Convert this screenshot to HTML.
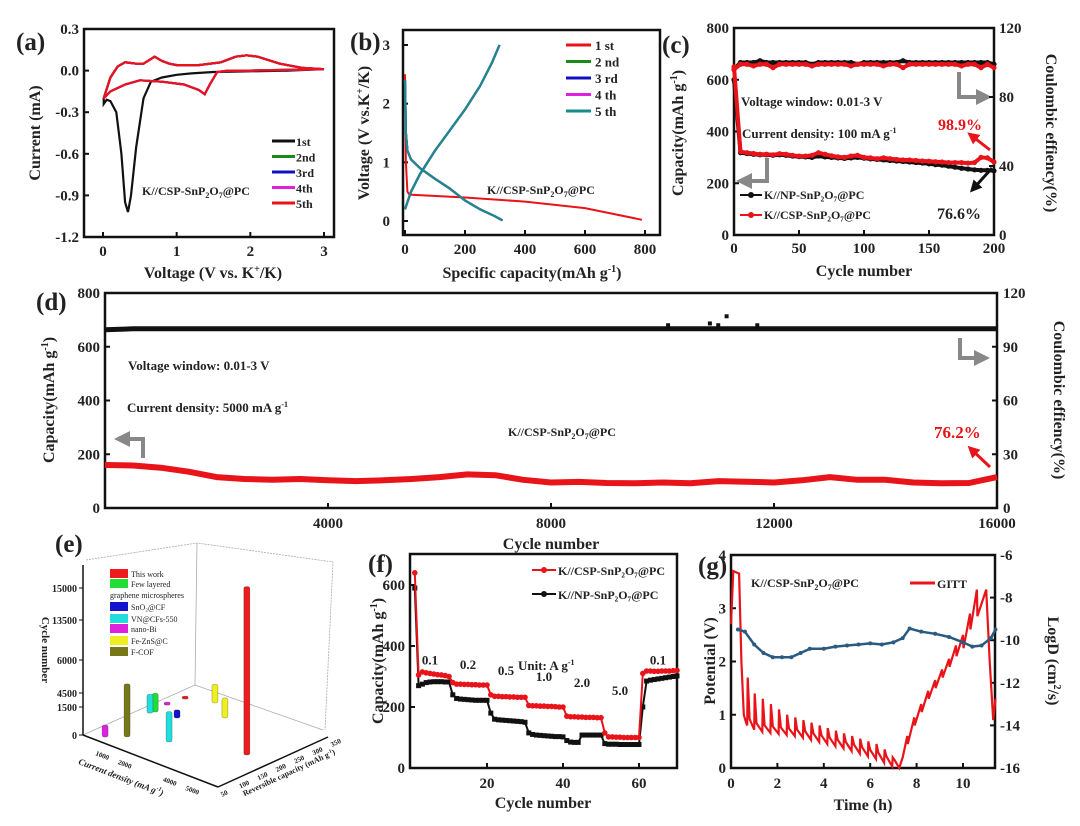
<!DOCTYPE html>
<html><head><meta charset="utf-8">
<style>
html,body{margin:0;padding:0;background:#fff;}
svg{display:block;font-family:"Liberation Serif",serif;font-weight:bold;}
text{fill:#222;}
</style></head>
<body>
<svg id="fig" width="1080" height="826" viewBox="0 0 1080 826" xmlns="http://www.w3.org/2000/svg">
<defs>
<marker id="ahg" markerWidth="4" markerHeight="4" refX="2" refY="2" orient="auto"><path d="M0,0 L4,2 L0,4 z" fill="#888"/></marker>
<marker id="ahr" markerWidth="4" markerHeight="4" refX="2" refY="2" orient="auto"><path d="M0,0 L4,2 L0,4 z" fill="#e8141a"/></marker>
<marker id="ahk" markerWidth="4" markerHeight="4" refX="2" refY="2" orient="auto"><path d="M0,0 L4,2 L0,4 z" fill="#111"/></marker>
</defs>
<text x="16" y="50" font-size="25">(a)</text>
<text x="350" y="50" font-size="25">(b)</text>
<text x="662" y="53" font-size="25">(c)</text>
<text x="36" y="310" font-size="25">(d)</text>
<text x="55" y="552" font-size="25">(e)</text>
<text x="368" y="572" font-size="25">(f)</text>
<text x="698" y="574" font-size="25">(g)</text>

<text x="213" y="278" font-size="16" text-anchor="middle">Voltage (V vs. K<tspan font-size="10" dy="-6">+</tspan><tspan dy="6">/K)</tspan></text>
<text transform="translate(40,133) rotate(-90)" font-size="16" text-anchor="middle">Current (mA)</text>
<text x="532" y="278" font-size="16" text-anchor="middle">Specific capacity(mAh g<tspan font-size="10" dy="-6">-1</tspan><tspan dy="6">)</tspan></text>
<text transform="translate(369,133) rotate(-90)" font-size="16" text-anchor="middle">Voltage (V vs.K<tspan font-size="10" dy="-6">+</tspan><tspan dy="6">/K)</tspan></text>
<text x="864" y="276" font-size="16" text-anchor="middle">Cycle number</text>
<text transform="translate(683,133) rotate(-90)" font-size="16" text-anchor="middle">Capacity(mAh g<tspan font-size="10" dy="-6">-1</tspan><tspan dy="6">)</tspan></text>
<text transform="translate(1046,133) rotate(90)" font-size="16" text-anchor="middle">Coulombic effiency(%)</text>
<text x="551" y="549" font-size="16" text-anchor="middle">Cycle number</text>
<text transform="translate(54,400) rotate(-90)" font-size="16" text-anchor="middle">Capacity(mAh g<tspan font-size="10" dy="-6">-1</tspan><tspan dy="6">)</tspan></text>
<text transform="translate(1054,400) rotate(90)" font-size="16" text-anchor="middle">Coulombic effiency(%)</text>
<text x="543" y="808" font-size="16" text-anchor="middle">Cycle number</text>
<text transform="translate(383,661) rotate(-90)" font-size="16" text-anchor="middle">Capacity(mAh g<tspan font-size="10" dy="-6">-1</tspan><tspan dy="6">)</tspan></text>
<text x="863" y="810" font-size="16" text-anchor="middle">Time (h)</text>
<text transform="translate(715,661) rotate(-90)" font-size="16" text-anchor="middle">Potential (V)</text>
<text transform="translate(1048,661) rotate(90)" font-size="16" text-anchor="middle">LogD (cm<tspan font-size="10" dy="-6">2</tspan><tspan dy="6">/s)</tspan></text>
<text transform="translate(42,650) rotate(90)" font-size="11" text-anchor="middle">Cycle number</text>
<text transform="translate(120,780) rotate(21)" font-size="9" font-style="italic" text-anchor="middle">Current density (mA g<tspan font-size="6" dy="-4">-1</tspan><tspan dy="4">)</tspan></text>
<text transform="translate(290,775) rotate(-25)" font-size="8" text-anchor="middle">Reversible capacity (mAh g<tspan font-size="5" dy="-3">-1</tspan><tspan dy="3">)</tspan></text>

<text x="142" y="195" font-size="12">K//CSP-SnP<tspan font-size="8" dy="3">2</tspan><tspan dy="-3">O</tspan><tspan font-size="8" dy="3">7</tspan><tspan dy="-3">@PC</tspan></text>
<text x="487" y="194" font-size="12">K//CSP-SnP<tspan font-size="8" dy="3">2</tspan><tspan dy="-3">O</tspan><tspan font-size="8" dy="3">7</tspan><tspan dy="-3">@PC</tspan></text>
<text x="741" y="106" font-size="13">Voltage window: 0.01-3 V</text>
<text x="742" y="138" font-size="13">Current density: 100 mA g<tspan font-size="8" dy="-5">-1</tspan></text>
<text x="938" y="130" font-size="16" style="fill:#e8141a">98.9%</text>
<text x="937" y="219" font-size="16">76.6%</text>
<text x="128" y="370" font-size="13">Voltage window: 0.01-3 V</text>
<text x="127" y="412" font-size="13">Current density: 5000 mA g<tspan font-size="8" dy="-5">-1</tspan></text>
<text x="508" y="436" font-size="12">K//CSP-SnP<tspan font-size="8" dy="3">2</tspan><tspan dy="-3">O</tspan><tspan font-size="8" dy="3">7</tspan><tspan dy="-3">@PC</tspan></text>
<text x="934" y="438" font-size="17" style="fill:#e8141a">76.2%</text>
<text x="518" y="670" font-size="13">Unit: A g<tspan font-size="8" dy="-5">-1</tspan></text>
<text x="751" y="587" font-size="12">K//CSP-SnP<tspan font-size="8" dy="3">2</tspan><tspan dy="-3">O</tspan><tspan font-size="8" dy="3">7</tspan><tspan dy="-3">@PC</tspan></text>

<polyline points="767,158 767,181 744,181" fill="none" stroke="#888" stroke-width="4" marker-end="url(#ahg)"/>
<polyline points="959,72 959,97 984,97" fill="none" stroke="#888" stroke-width="4" marker-end="url(#ahg)"/>
<line x1="990" y1="150" x2="972" y2="136" stroke="#e8141a" stroke-width="3" marker-end="url(#ahr)"/>
<line x1="992" y1="168" x2="974" y2="188" stroke="#111" stroke-width="3" marker-end="url(#ahk)"/>
<polyline points="143,458 143,439 122,439" fill="none" stroke="#888" stroke-width="4" marker-end="url(#ahg)"/>
<polyline points="960,338 960,358 982,358" fill="none" stroke="#888" stroke-width="4" marker-end="url(#ahg)"/>
<line x1="990" y1="467" x2="972" y2="450" stroke="#e8141a" stroke-width="3" marker-end="url(#ahr)"/>
</svg>

<script>
const aCath1V=[3,2.5,2,1.5,1.2,1,0.8,0.65,0.55,0.45,0.38,0.34,0.3,0.25,0.18,0.1,0.05,0.01];
const aCath1I=[0.01,0,-0.005,-0.01,-0.02,-0.03,-0.05,-0.08,-0.2,-0.55,-0.9,-1.02,-0.95,-0.6,-0.3,-0.22,-0.21,-0.24];
const aCathV=[3,2.5,2,1.7,1.55,1.45,1.38,1.3,1.1,0.8,0.5,0.3,0.1,0.01];
const aCathI=[0.01,0.005,0,0,-0.01,-0.1,-0.17,-0.14,-0.1,-0.08,-0.07,-0.1,-0.15,-0.2];
const aAnodV=[0.01,0.1,0.2,0.3,0.45,0.55,0.7,0.8,0.9,1.0,1.3,1.6,1.8,1.95,2.1,2.4,2.7,3];
const aAnodI=[-0.2,-0.05,0.03,0.06,0.05,0.05,0.1,0.07,0.05,0.04,0.04,0.06,0.1,0.11,0.1,0.05,0.02,0.01];
const aLegend=['1st','2nd','3rd','4th','5th'];
const aYTicks=[0.3,0,-0.3,-0.6,-0.9,-1.2];
const aYLabels=['0.3','0.0','-0.3','-0.6','-0.9','-1.2'];
const aXTicks=[0,1,2,3];
const bDisCap=[0,3,8,20,50,100,150,200,250,300,325];
const bDisV=[2.4,1.5,1.2,1.05,0.9,0.72,0.55,0.35,0.2,0.08,0.01];
const bChgCap=[0,20,50,100,150,200,250,290,315];
const bChgV=[0.2,0.5,0.8,1.2,1.55,1.9,2.3,2.7,3.0];
const bFirstCap=[0,3,8,15,200,400,600,790];
const bFirstV=[2.5,1.0,0.5,0.45,0.4,0.33,0.22,0.02];
const bLegend=['1 st','2 nd','3 rd','4 th','5 th'];
const bXTicks=[0,200,400,600,800];
const bYTicks=[0,1,2,3];
const cCycles=[0,5,10,15,20,25,30,35,40,45,50,55,60,65,70,75,80,85,90,95,100,105,110,115,120,125,130,135,140,145,150,155,160,165,170,175,180,185,190,195,200];
const cRedCap=[650,322,318,315,312,312,310,314,312,308,305,305,308,318,312,306,302,300,305,308,300,298,295,298,295,292,290,290,288,286,285,283,282,280,280,280,278,280,300,298,282];
const cBlackCap=[600,318,315,312,310,310,308,310,308,305,303,302,300,305,302,300,298,296,298,300,297,294,292,290,288,286,284,282,280,278,275,272,270,266,262,258,255,252,250,250,248];
const cRedCE=[96,99,99,98,99,99,97,99,99,99,99,99,98,99,99,99,99,99,98,99,99,99,99,98,99,99,97,99,99,99,99,99,99,99,99,98,99,99,97,99,97];
const cBlackCE=[96,100,100,100,101,100,100,100,100,100,100,100,99,100,100,100,100,100,100,99,100,100,100,100,100,100,101,100,100,100,100,100,100,100,100,100,100,100,100,100,99];
const cXTicks=[0,50,100,150,200];
const cYTicks=[0,200,400,600,800];
const cY2Ticks=[0,40,80,120];
const dCycles=[0,500,1000,1500,2000,2500,3000,3500,4000,4500,5000,5500,6000,6500,7000,7500,8000,8500,9000,9500,10000,10500,11000,11500,12000,12500,13000,13500,14000,14500,15000,15500,16000];
const dCap=[160,158,150,135,115,108,105,108,103,100,103,108,115,125,122,105,95,97,93,92,95,92,100,98,95,103,115,105,105,95,92,93,115];
const dCE=[99.5,100,100,100,100,100,100,100,100,100,100,100,100,100,100,100,100,100,100,100,100,100,100,100,100,100,100,100,100,100,100,100,100];
const dSpikeCycles=[10100,10850,11000,11150,11700];
const dSpikeCE=[102,103,102,107,102];
const dXTicks=[4000,8000,12000,16000];
const dYTicks=[0,200,400,600,800];
const dY2Ticks=[0,30,60,90,120];
const eNames=['This work','Few layered graphene microspheres','SnO2@CF','VN@CFs-550','nano-Bi','Fe-ZnS@C','F-COF'];
const eBarSeries=[0,1,3,3,2,4,5,5,6,0,4];
const eCurrent=[5000,520,450,2440,1360,640,1480,2510,1160,500,380];
const eCapacity=[190,215,205,135,223,71,319,283,99,298,256];
const eCycles=[16000,1000,1000,2000,430,640,1000,1070,5000,100,100];
const eZTicks=[0,1500,4500,6000,13500,15000];
const eXTicks=[1000,2000,4000,5000];
const eYTicks=[50,100,150,200,250,300,350];
const fRed=[640,305,315,312,310,308,306,305,303,300,280,275,275,274,274,273,273,272,272,272,240,235,235,234,234,233,233,232,232,232,205,204,204,203,203,202,202,201,200,200,170,168,168,167,167,166,166,166,165,165,115,102,102,101,101,100,100,100,100,100,310,318,318,317,317,318,318,318,319,320];
const fBlack=[590,270,275,280,282,283,283,283,282,282,240,228,226,225,224,223,222,222,222,222,180,160,158,157,156,155,154,153,152,150,115,110,108,107,106,105,104,103,103,102,90,85,84,84,108,108,108,108,108,108,80,78,78,78,77,77,77,77,77,77,200,285,288,290,292,294,296,298,300,302];
const fRates=['0.1','0.2','0.5','1.0','2.0','5.0','0.1'];
const fRateCycle=[5,15,25,35,45,55,65];
const fRateCap=[340,325,305,285,265,240,340];
const fXTicks=[20,40,60];
const fYTicks=[0,200,400,600];
const gDisT=[0.7,1.0,1.35,1.7,2.05,2.4,2.75,3.1,3.45,3.8,4.15,4.5,4.85,5.2,5.55,5.9,6.25,6.6,6.95];
const gDisBase=[0.8,0.72,0.68,0.66,0.64,0.62,0.6,0.57,0.53,0.49,0.45,0.41,0.37,0.32,0.27,0.22,0.17,0.1,0.03];
const gDisPeak=[1.7,1.4,1.3,1.2,1.1,1.0,0.95,0.9,0.85,0.8,0.75,0.7,0.65,0.6,0.55,0.5,0.45,0.35,0.2];
const gChgT=[7.6,7.9,8.2,8.5,8.8,9.1,9.4,9.7,10.0,10.3,10.6];
const gChgTop=[0.6,0.95,1.2,1.45,1.65,1.85,2.05,2.3,2.5,2.9,3.35];
const gChgRelax=[0.45,0.8,1.05,1.3,1.5,1.7,1.9,2.1,2.25,2.6,2.85];
const gLogT=[0.3,0.6,1.0,1.4,1.8,2.2,2.6,3.0,3.4,4,4.5,5,5.5,6,6.5,7,7.4,7.7,8.2,8.8,9.4,10,10.4,10.8,11.2,11.4];
const gLogD=[-9.5,-9.6,-10.2,-10.6,-10.8,-10.8,-10.8,-10.6,-10.4,-10.4,-10.3,-10.25,-10.2,-10.15,-10.2,-10.1,-9.9,-9.45,-9.6,-9.7,-9.85,-10.1,-10.3,-10.25,-9.9,-9.5];
const gXTicks=[0,2,4,6,8,10];
const gYTicks=[0,1,2,3,4];
const gY2Ticks=[-6,-8,-10,-12,-14,-16];

const NS='http://www.w3.org/2000/svg';
const svg=document.getElementById('fig');
function el(tag,attrs,name){
  const e=document.createElementNS(NS,tag);
  for(const k in attrs) e.setAttribute(k,attrs[k]);
  
  
  svg.appendChild(e); return e;
}
function txt(x,y,s,attrs,name){const t=el('text',Object.assign({x:x,y:y},attrs),name);t.textContent=s;return t;}
function lin(d0,d1,p0,p1){return v=>p0+(v-d0)/(d1-d0)*(p1-p0);}
function pth(pts){return pts.map((p,i)=>(i?'L':'M')+p[0].toFixed(1)+','+p[1].toFixed(1)).join('');}
function zip(xs,ys,sx,sy){return xs.map((x,i)=>[sx(x),sy(ys[i])]);}
function box(x0,y0,x1,y1,name){el('rect',{x:x0,y:y0,width:x1-x0,height:y1-y0,fill:'none',stroke:'#111','stroke-width':2.5},name);}
function xAxis(ticks,labels,sx,y,ly,name,fs){ticks.forEach((t,i)=>{el('line',{x1:sx(t),x2:sx(t),y1:y,y2:y-5,stroke:'#111','stroke-width':2},name+'-tick');txt(sx(t),ly,labels[i],{'font-size':fs||15,'text-anchor':'middle'},name+'-label');});}
function yAxis(ticks,labels,sy,x,lx,anchor,dir,name,fs){ticks.forEach((t,i)=>{el('line',{x1:x,x2:x+dir*5,y1:sy(t),y2:sy(t),stroke:'#111','stroke-width':2},name+'-tick');txt(lx,sy(t)+5,labels[i],{'font-size':fs||15,'text-anchor':anchor},name+'-label');});}

{
const sx=lin(0,3,103,324), sy=lin(0.3,-1.2,29,237);
box(84,29,334,237,'a-plot-frame');
xAxis(aXTicks,aXTicks.map(String),sx,237,256,'a-x-axis');
yAxis(aYTicks,aYLabels,sy,84,79,'end',1,'a-y-axis');
const cols=['#111','#1a8a1a','#1010c0','#e020e0','#e8141a'];
cols.forEach((c,i)=>{
  const cath=i===0?zip(aCath1V,aCath1I,sx,sy):zip(aCathV,aCathI,sx,sy);
  el('path',{d:pth(cath.concat(zip(aAnodV,aAnodI,sx,sy))),fill:'none',stroke:c,'stroke-width':2.2},'a-cv-cycle-'+(i+1));
  el('line',{x1:272,x2:295,y1:141+i*15.5,y2:141+i*15.5,stroke:c,'stroke-width':3},'a-legend-swatch');
  txt(296,146+i*15.5,aLegend[i],{'font-size':12},'a-legend-entry');
});
}
{
const sx=lin(0,800,405,645), sy=lin(0,3,221,45);
box(403,30,660,235,'b-plot-frame');
xAxis(bXTicks,bXTicks.map(String),sx,235,254,'b-x-axis');
yAxis(bYTicks,bYTicks.map(String),sy,403,390,'end',1,'b-y-axis');
const cols=['#e8141a','#1a8a1a','#1010c0','#e020e0','#1a8a8a'];
el('path',{d:pth(zip(bFirstCap,bFirstV,sx,sy)),fill:'none',stroke:cols[0],'stroke-width':2},'b-cycle-1-discharge');
for(let i=1;i<5;i++){
  el('path',{d:pth(zip(bDisCap,bDisV,sx,sy)),fill:'none',stroke:cols[i],'stroke-width':2.2},'b-cycle-'+(i+1)+'-discharge');
  el('path',{d:pth(zip(bChgCap,bChgV,sx,sy)),fill:'none',stroke:cols[i],'stroke-width':2.2},'b-cycle-'+(i+1)+'-charge');
}
cols.forEach((c,i)=>{
  el('line',{x1:566,x2:591,y1:45+i*16.5,y2:45+i*16.5,stroke:c,'stroke-width':3},'b-legend-swatch');
  txt(595,50+i*16.5,bLegend[i],{'font-size':13},'b-legend-entry');
});
}
{
const sx=lin(0,200,734,994), sy=lin(0,800,235,28), sy2=lin(0,120,235,28);
box(734,28,994,235,'c-plot-frame');
xAxis(cXTicks,cXTicks.map(String),sx,235,253,'c-x-axis');
yAxis(cYTicks,cYTicks.map(String),sy,734,729,'end',1,'c-y-axis');
yAxis(cY2Ticks,cY2Ticks.map(String),sy2,994,999,'start',-1,'c-y2-axis');
const series=[[cBlackCE,sy2,'#111','c-black-ce'],[cRedCE,sy2,'#e8141a','c-red-ce'],[cBlackCap,sy,'#111','c-black-capacity'],[cRedCap,sy,'#e8141a','c-red-capacity']];
series.forEach(s=>{
  el('path',{d:pth(zip(cCycles,s[0],sx,s[1])),fill:'none',stroke:s[2],'stroke-width':4},s[3]+'-line');
  cCycles.forEach((c,i)=>{el('circle',{cx:sx(c),cy:s[1](s[0][i]),r:2.6,fill:s[2]},s[3]+'-point');});
});
[['#111','K//NP-SnP₂O₇@PC'],['#e8141a','K//CSP-SnP₂O₇@PC']].forEach((l,i)=>{
  el('line',{x1:740,x2:762,y1:195+i*20,y2:195+i*20,stroke:l[0],'stroke-width':2},'c-legend-swatch');
  el('circle',{cx:751,cy:195+i*20,r:3,fill:l[0]},'c-legend-marker');
  txt(764,199+i*20,l[1],{'font-size':12},'c-legend-entry');
});
}
{
const sx=lin(0,16000,105,997), sy=lin(0,800,508,293), sy2=lin(0,120,508,293);
box(105,293,997,508,'d-plot-frame');
xAxis(dXTicks,dXTicks.map(String),sx,508,528,'d-x-axis');
yAxis(dYTicks,dYTicks.map(String),sy,105,100,'end',1,'d-y-axis');
yAxis(dY2Ticks,dY2Ticks.map(String),sy2,997,1003,'start',-1,'d-y2-axis');
el('path',{d:pth(zip(dCycles,dCE,sx,sy2)),fill:'none',stroke:'#111','stroke-width':5},'d-ce-line');
dSpikeCycles.forEach((c,i)=>{el('rect',{x:sx(c)-2,y:sy2(dSpikeCE[i])-2,width:4,height:4,fill:'#111'},'d-ce-outlier');});
el('path',{d:pth(zip(dCycles,dCap,sx,sy)),fill:'none',stroke:'#e8141a','stroke-width':6,'stroke-linejoin':'round'},'d-capacity-line');
}
{
const O=[83,735], U=[135,52], V=[110,-50];
const zPx=[0,28,42,75,115,147];
function hz(c){for(let i=1;i<eZTicks.length;i++){if(c<=eZTicks[i]||i===eZTicks.length-1){const a=eZTicks[i-1],b=eZTicks[i];return zPx[i-1]+(c-a)/(b-a)*(zPx[i]-zPx[i-1]);}}}
function P(cur,cap){const a=cur/6000,b=(cap-50)/300;return [O[0]+a*U[0]+b*V[0],O[1]+a*U[1]+b*V[1]];}
const g='#aaa';
el('polyline',{points:'83,735 195,685 323,730',fill:'none',stroke:g,'stroke-width':0.8},'e-floor-back-edges');
el('line',{x1:195,y1:685,x2:197,y2:543,stroke:g,'stroke-width':0.8},'e-back-vertical-edge');
el('polyline',{points:'86,560 197,543 333,562 325,730',fill:'none',stroke:g,'stroke-width':0.8,'stroke-dasharray':'2,1'},'e-top-edges');
el('line',{x1:83,y1:735,x2:83,y2:565,stroke:'#111','stroke-width':1.5},'e-z-axis');
el('line',{x1:83,y1:735,x2:218,y2:787,stroke:'#111','stroke-width':1.5},'e-x-axis');
el('line',{x1:218,y1:787,x2:328,y2:737,stroke:'#111','stroke-width':1.5},'e-y-axis');
eZTicks.forEach((t,i)=>{el('line',{x1:79,x2:83,y1:735-zPx[i],y2:735-zPx[i],stroke:'#111'},'e-z-tick');txt(77,739-zPx[i],String(t),{'font-size':10,'text-anchor':'end'},'e-z-tick-label');});
eXTicks.forEach(t=>{const p=P(t,50);txt(p[0]-4,p[1]+14,String(t),{'font-size':7,'text-anchor':'middle',transform:'rotate(21 '+(p[0]-4)+' '+(p[1]+14)+')'},'e-x-tick-label');});
eYTicks.forEach(t=>{const p=P(6000,t);txt(p[0]+4,p[1]+10,String(t),{'font-size':7,transform:'rotate(-25 '+(p[0]+4)+' '+(p[1]+10)+')'},'e-y-tick-label');});
const eCol=['#ee1c1c','#22dd33','#1414cc','#22dddd','#dd22dd','#eeee22','#77771a'];
eCurrent.forEach((c,i)=>{
  const p=P(c,eCapacity[i]), h=hz(eCycles[i]), col=eCol[eBarSeries[i]];
  el('rect',{x:p[0]-3,y:p[1]-h,width:6,height:Math.max(h,3),fill:col,stroke:'rgba(0,0,0,0.35)','stroke-width':0.6,rx:2},'e-bar-'+eNames[eBarSeries[i]].toLowerCase().replace(/[^a-z0-9]+/g,'-'));
});
eNames.forEach((n,i)=>{
  const y=[574,584,607,619,629,641,652][i];
  el('rect',{x:110,y:y-5,width:18,height:9,fill:eCol[i]},'e-legend-swatch');
  if(i===1){txt(131,y+3,'Few layered',{'font-size':8,'font-weight':'normal'},'e-legend-entry');txt(110,y+14,'graphene microspheres',{'font-size':8,'font-weight':'normal'},'e-legend-entry');}
  else txt(131,y+3,n.replace('SnO2','SnO₂'),{'font-size':8,'font-weight':'normal'},'e-legend-entry');
});
}
{
const sx=lin(0,70,411,677), sy=lin(0,600,768,585);
box(410,554,677,768,'f-plot-frame');
xAxis(fXTicks,fXTicks.map(String),sx,768,788,'f-x-axis');
yAxis(fYTicks,fYTicks.map(String),sy,410,405,'end',1,'f-y-axis');
const cyc=fRed.map((v,i)=>i+1);
el('path',{d:pth(zip(cyc,fBlack,sx,sy)),fill:'none',stroke:'#111','stroke-width':2},'f-np-line');
cyc.forEach((c,i)=>{el('rect',{x:sx(c)-2.5,y:sy(fBlack[i])-2.5,width:5,height:5,fill:'#111'},'f-np-point');});
el('path',{d:pth(zip(cyc,fRed,sx,sy)),fill:'none',stroke:'#e8141a','stroke-width':2},'f-csp-line');
cyc.forEach((c,i)=>{el('circle',{cx:sx(c),cy:sy(fRed[i]),r:2.8,fill:'#e8141a'},'f-csp-point');});
fRates.forEach((r,i)=>{txt(sx(fRateCycle[i]),sy(fRateCap[i]),r,{'font-size':13,'text-anchor':'middle'},'f-rate-label');});
[['#e8141a','K//CSP-SnP₂O₇@PC'],['#111','K//NP-SnP₂O₇@PC']].forEach((l,i)=>{
  el('line',{x1:532,x2:556,y1:570+i*24,y2:570+i*24,stroke:l[0],'stroke-width':2},'f-legend-swatch');
  el('circle',{cx:544,cy:570+i*24,r:3,fill:l[0]},'f-legend-marker');
  txt(558,575+i*24,l[1],{'font-size':12},'f-legend-entry');
});
}
{
const sx=lin(0,10,731,963), sy=lin(0,4,768,555), sy2=lin(-6,-16,555,768);
box(731,555,995,768,'g-plot-frame');
xAxis(gXTicks,gXTicks.map(String),sx,768,788,'g-x-axis');
yAxis(gYTicks,gYTicks.map(String),sy,731,726,'end',1,'g-y-axis');
yAxis(gY2Ticks,gY2Ticks.map(String),sy2,995,1000,'start',-1,'g-y2-axis');
let pts=[[0,2.7],[0.1,3.7],[0.35,3.65],[0.45,2.0],[0.55,1.0],[0.65,0.85]];
gDisT.forEach((t,i)=>{pts.push([t,gDisBase[i]]);pts.push([t+0.02,gDisPeak[i]]);pts.push([t+0.1,gDisBase[i]+0.12]);});
pts.push([7.25,0]);pts.push([7.4,0.2]);
gChgT.forEach((t,i)=>{pts.push([t,gChgTop[i]]);pts.push([t+0.02,gChgRelax[i]]);});
pts.push([11.0,3.35]);pts.push([11.15,2.0]);pts.push([11.3,0.9]);pts.push([11.4,1.3]);
el('path',{d:pth(pts.map(p=>[sx(p[0]),sy(p[1])])),fill:'none',stroke:'#e8141a','stroke-width':2.2},'g-gitt-curve');
el('path',{d:pth(zip(gLogT,gLogD,sx,sy2)),fill:'none',stroke:'#2a5a80','stroke-width':2.5},'g-logd-line');
gLogT.forEach((t,i)=>{el('circle',{cx:sx(t),cy:sy2(gLogD[i]),r:2,fill:'#2a5a80'},'g-logd-point');});
el('line',{x1:910,x2:935,y1:583,y2:583,stroke:'#e8141a','stroke-width':3},'g-legend-swatch');
txt(937,588,'GITT',{'font-size':12},'g-legend-entry');
}
</script>
</body></html>
